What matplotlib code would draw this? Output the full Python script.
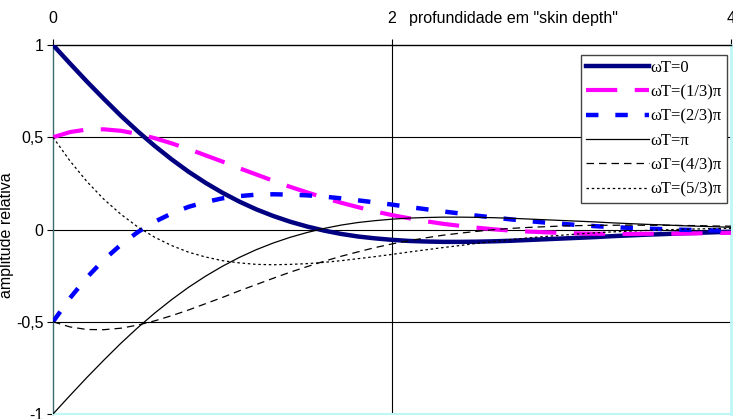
import matplotlib
matplotlib.use("Agg")
from matplotlib import pyplot as plt
import numpy as np

# profundidade em unidades de "skin depth"
z = [0.0, 0.1, 0.2, 0.3, 0.4, 0.5, 0.6, 0.7, 0.8, 0.9,
     1.0, 1.1, 1.2, 1.3, 1.4, 1.5, 1.6, 1.7, 1.8, 1.9,
     2.0, 2.1, 2.2, 2.3, 2.4, 2.5, 2.6, 2.7, 2.8, 2.9,
     3.0, 3.1, 3.2, 3.3, 3.4, 3.5, 3.6, 3.7, 3.8, 3.9, 4.0]

wt_0 = [1.000, 0.900, 0.802, 0.708, 0.617, 0.532, 0.453, 0.380, 0.313, 0.253,
        0.199, 0.151, 0.109, 0.073, 0.042, 0.016, -0.006, -0.024, -0.038, -0.048,
        -0.056, -0.062, -0.065, -0.067, -0.067, -0.066, -0.064, -0.061, -0.057, -0.053,
        -0.049, -0.045, -0.041, -0.036, -0.032, -0.028, -0.025, -0.021, -0.018, -0.015, -0.012]
wt_1 = [0.500, 0.528, 0.542, 0.543, 0.535, 0.518, 0.495, 0.467, 0.436, 0.402,
        0.368, 0.332, 0.298, 0.264, 0.231, 0.201, 0.172, 0.145, 0.121, 0.098,
        0.078, 0.061, 0.045, 0.031, 0.020, 0.010, 0.001, -0.006, -0.011, -0.015,
        -0.019, -0.021, -0.023, -0.023, -0.024, -0.023, -0.023, -0.022, -0.021, -0.019, -0.018]
wt_2 = [-0.500, -0.372, -0.260, -0.164, -0.083, -0.014, 0.042, 0.087, 0.123, 0.149,
        0.169, 0.181, 0.189, 0.191, 0.189, 0.185, 0.178, 0.169, 0.158, 0.147,
        0.135, 0.122, 0.110, 0.098, 0.087, 0.075, 0.065, 0.055, 0.046, 0.038,
        0.031, 0.024, 0.018, 0.013, 0.009, 0.005, 0.002, -0.001, -0.003, -0.005, -0.006]
wt_3 = [-1.000, -0.900, -0.802, -0.708, -0.617, -0.532, -0.453, -0.380, -0.313, -0.253,
        -0.199, -0.151, -0.109, -0.073, -0.042, -0.016, 0.006, 0.024, 0.038, 0.048,
        0.056, 0.062, 0.065, 0.067, 0.067, 0.066, 0.064, 0.061, 0.057, 0.053,
        0.049, 0.045, 0.041, 0.036, 0.032, 0.028, 0.025, 0.021, 0.018, 0.015, 0.012]
wt_4 = [-0.500, -0.528, -0.542, -0.543, -0.535, -0.518, -0.495, -0.467, -0.436, -0.402,
        -0.368, -0.332, -0.298, -0.264, -0.231, -0.201, -0.172, -0.145, -0.121, -0.098,
        -0.078, -0.061, -0.045, -0.031, -0.020, -0.010, -0.001, 0.006, 0.011, 0.015,
        0.019, 0.021, 0.023, 0.023, 0.024, 0.023, 0.023, 0.022, 0.021, 0.019, 0.018]
wt_5 = [0.500, 0.372, 0.260, 0.164, 0.083, 0.014, -0.042, -0.087, -0.123, -0.149,
        -0.169, -0.181, -0.189, -0.191, -0.189, -0.185, -0.178, -0.169, -0.158, -0.147,
        -0.135, -0.122, -0.110, -0.098, -0.087, -0.075, -0.065, -0.055, -0.046, -0.038,
        -0.031, -0.024, -0.018, -0.013, -0.009, -0.005, -0.002, 0.001, 0.003, 0.005, 0.006]

labels = ["\u03c9T=0", "\u03c9T=(1/3)\u03c0", "\u03c9T=(2/3)\u03c0",
          "\u03c9T=\u03c0", "\u03c9T=(4/3)\u03c0", "\u03c9T=(5/3)\u03c0"]
x_ticks = [0, 2, 4]
y_ticks = [-1, -0.5, 0, 0.5, 1]
y_ticklabels = ["-1", "-0,5", "0", "0,5", "1"]

plt.rcParams['font.family'] = ['Liberation Sans', 'DejaVu Sans']

fig = plt.figure(figsize=(7.33, 4.19), dpi=100)
ax = fig.add_axes([0.0723, 0.0119, 0.925, 0.8807])

# grade horizontal e linha vertical em z=2
for yv in [-0.5, 0, 0.5]:
    ax.axhline(yv, color='k', linewidth=0.8, zorder=1)
ax.axvline(2, color='k', linewidth=0.8, zorder=1)

ax.plot(z, wt_0, color='#000080', linewidth=3.2, label=labels[0], zorder=3)
ax.plot(z, wt_1, color='#ff00ff', linewidth=3.0, dashes=(7.5, 4.2), label=labels[1], zorder=3)
ax.plot(z, wt_2, color='#0000ff', linewidth=3.2, dashes=(2.8, 3.8), label=labels[2], zorder=3)
ax.plot(z, wt_3, color='k', linewidth=0.9, label=labels[3], zorder=3)
ax.plot(z, wt_4, color='k', linewidth=0.9, dashes=(6, 4), label=labels[4], zorder=3)
ax.plot(z, wt_5, color='k', linewidth=0.9, dashes=(2, 2.2), label=labels[5], zorder=3)

ax.set_xlim(0, 4)
ax.set_ylim(-1, 1)

ax.xaxis.tick_top()
ax.set_xticks(x_ticks)
ax.set_xticklabels([str(t) for t in x_ticks])
ax.set_yticks(y_ticks)
ax.set_yticklabels(y_ticklabels)
ax.tick_params(axis='x', direction='out', length=4, width=0.8, pad=10, labelsize=11.5)
ax.tick_params(axis='y', direction='out', length=4, width=0.8, pad=3, labelsize=11.5)

ax.spines['top'].set_color('k')
ax.spines['top'].set_linewidth(1.0)
ax.spines['left'].set_color('#3d6b6b')
ax.spines['left'].set_linewidth(1.0)
ax.spines['right'].set_color('#bff7f7')
ax.spines['right'].set_linewidth(2.0)
ax.spines['bottom'].set_color('#bff7f7')
ax.spines['bottom'].set_linewidth(1.5)

ax.text(2.1, 1.073, 'profundidade em "skin depth"', transform=ax.get_xaxis_transform(),
        ha='left', va='center', fontsize=11.5)
ax.set_ylabel('amplitude relativa', fontsize=11.5, labelpad=2)
ax.yaxis.set_label_coords(-0.057, 0.485)

leg = ax.legend(loc='upper right', bbox_to_anchor=(0.994, 0.973), borderaxespad=0,
                prop={'family': 'Liberation Serif', 'size': 12},
                handlelength=3.8, handletextpad=0.1, labelspacing=0.5,
                borderpad=0.3, fancybox=False, framealpha=1)
leg.get_frame().set_edgecolor('#444444')
leg.get_frame().set_linewidth(1.0)

fig.savefig('out.png', dpi=100)
